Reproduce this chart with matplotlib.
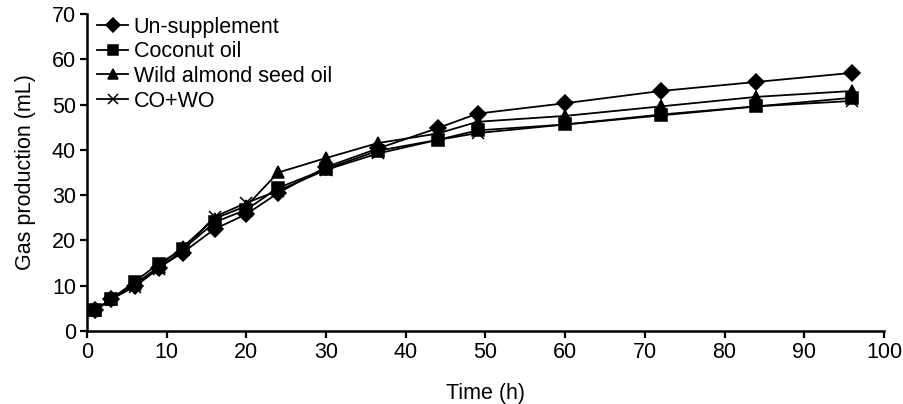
import matplotlib
matplotlib.use("Agg")
import matplotlib.pyplot as plt

plt.rcParams['font.family'] = ['Liberation Sans', 'DejaVu Sans']

time_h = [1, 3, 6, 9, 12, 16, 20, 24, 30, 36.5, 44, 49, 60, 72, 84, 96]
un_supplement = [4.6, 7.0, 10.0, 14.0, 17.3, 22.5, 25.8, 30.5, 36.2, 40.3, 44.8, 48.0, 50.3, 53.0, 55.0, 57.0]
coconut_oil = [4.6, 7.0, 10.9, 14.9, 18.0, 24.0, 26.8, 31.6, 35.8, 39.8, 42.2, 44.3, 45.6, 47.8, 49.6, 51.5]
wild_almond = [4.6, 7.0, 10.3, 14.2, 18.5, 24.8, 27.6, 35.0, 38.2, 41.5, 43.6, 46.2, 47.5, 49.6, 51.7, 53.0]
co_wo = [4.6, 7.0, 9.8, 13.8, 17.8, 25.2, 28.3, 31.0, 35.6, 39.2, 42.2, 43.7, 45.6, 47.6, 49.6, 50.8]

series_names = ["Un-supplement", "Coconut oil", "Wild almond seed oil", "CO+WO"]
x_ticks = list(range(0, 101, 10))
y_ticks = list(range(0, 71, 10))

FS = 15.5

fig = plt.figure(figsize=(9.04, 4.04), dpi=100)
ax = fig.add_axes([87/904, 1 - 331/404, (884 - 87)/904, (331 - 14)/404])

styles = [("D", 8), ("s", 8), ("^", 8.5), ("x", 8)]
for ys, name, (m, ms) in zip([un_supplement, coconut_oil, wild_almond, co_wo], series_names, styles):
    ax.plot(time_h, ys, color="black", lw=1.3, marker=m, markersize=ms,
            markerfacecolor="black", markeredgecolor="black", markeredgewidth=1.1, label=name)

ax.set_xlim(0, 100)
ax.set_ylim(0, 70)
ax.set_xticks(x_ticks)
ax.set_yticks(y_ticks)
for s in ["top", "right"]:
    ax.spines[s].set_visible(False)
for s in ["left", "bottom"]:
    ax.spines[s].set_linewidth(1.8)
ax.tick_params(axis="both", direction="out", length=5, width=1.6, labelsize=FS,
               colors="black", pad=3)
ax.set_xlabel("Time (h)", fontsize=FS, labelpad=14)
ax.set_ylabel("Gas production (mL)", fontsize=FS, labelpad=11)

ax.legend(loc="upper left", bbox_to_anchor=(0.0125, 0.992), frameon=False, fontsize=FS,
          handlelength=1.45, handletextpad=0.25, labelspacing=0.17, borderaxespad=0.0,
          borderpad=0.0, markerscale=0.9)

fig.savefig("out.png", dpi=100)
